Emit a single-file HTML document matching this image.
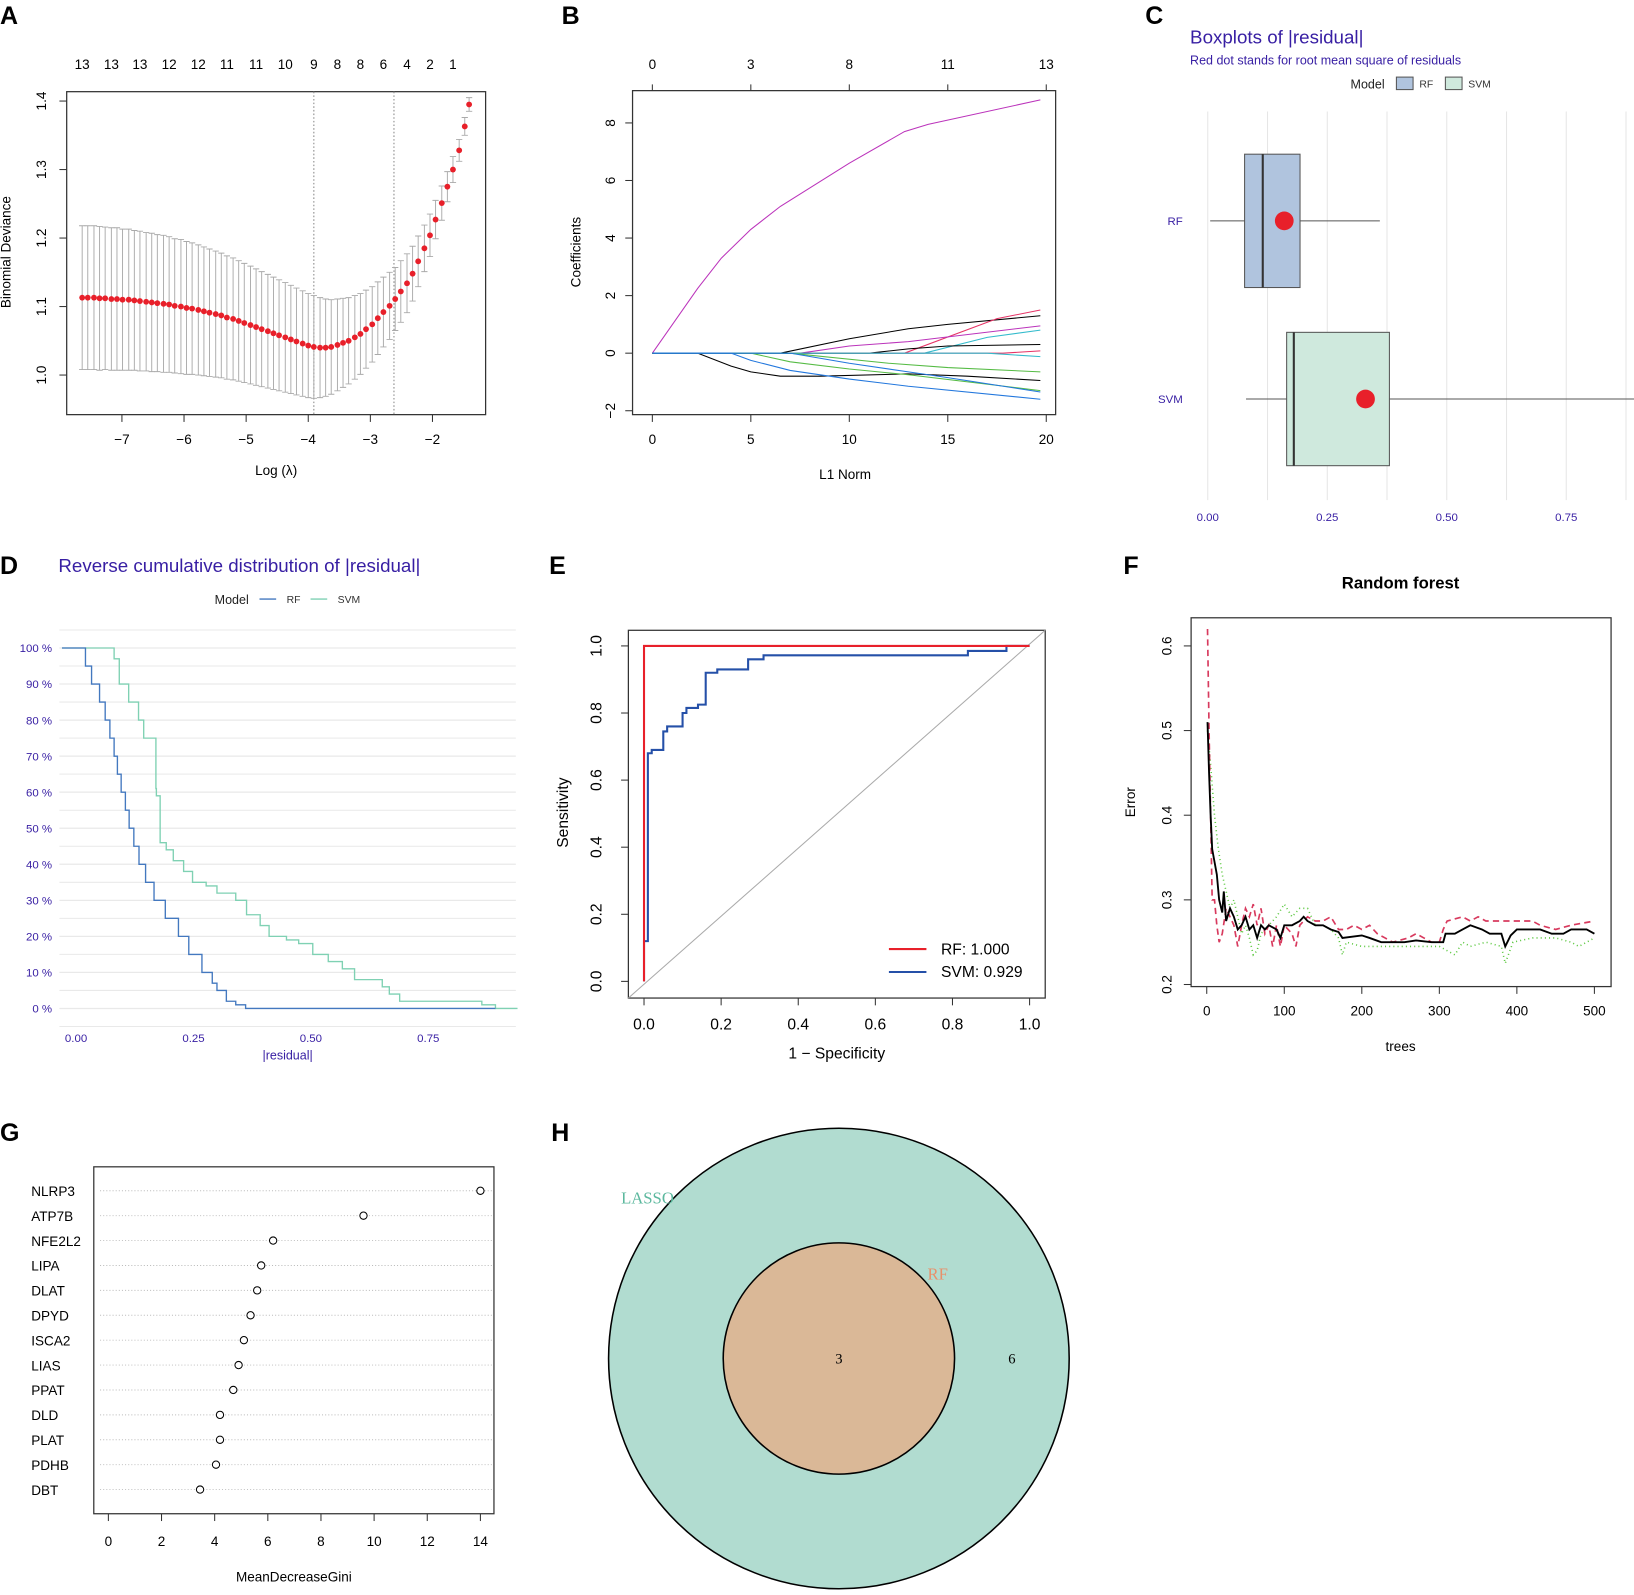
<!DOCTYPE html>
<html><head><meta charset="utf-8">
<style>
html,body{margin:0;padding:0;background:#fff;}
svg{display:block;font-family:"Liberation Sans",Arial,sans-serif;}
</style></head>
<body>
<svg id="fig" width="1634" height="1595" viewBox="0 0 1568 1531" preserveAspectRatio="none" xmlns="http://www.w3.org/2000/svg">
<g font-weight="bold" font-size="24" fill="#000">
<text x="0" y="23">A</text>
<text x="539" y="23">B</text>
<text x="1099" y="23">C</text>
<text x="0" y="551">D</text>
<text x="527" y="551">E</text>
<text x="1078" y="551">F</text>
<text x="0" y="1095">G</text>
<text x="529" y="1095">H</text>
</g>
<g id="pA"></g>
<g id="pB"></g>
<g id="pC"></g>
<g id="pD"></g>
<g id="pE"></g>
<g id="pF"></g>
<g id="pG"></g>
<g id="pH">
  <circle cx="805" cy="1304" r="221" fill="#b1dcd0" stroke="#000" stroke-width="1.5"/>
  <circle cx="805" cy="1304" r="111" fill="#dab897" stroke="#000" stroke-width="1.5"/>
  <text x="596" y="1155" font-family="Liberation Serif,serif" font-size="16" fill="#5cb89e">LASSO</text>
  <text x="890" y="1228" font-family="Liberation Serif,serif" font-size="16" fill="#e8906a">RF</text>
  <text x="805" y="1309" text-anchor="middle" font-family="Liberation Serif,serif" font-size="14">3</text>
  <text x="971" y="1309" text-anchor="middle" font-family="Liberation Serif,serif" font-size="14">6</text>
</g>
</svg>
<script>
// ===== Panel A data =====
const aLogLambda = [-7.64,-7.55,-7.45,-7.36,-7.27,-7.17,-7.08,-6.99,-6.89,-6.80,-6.71,-6.61,-6.52,-6.43,-6.33,-6.24,-6.15,-6.05,-5.96,-5.87,-5.77,-5.68,-5.59,-5.49,-5.40,-5.31,-5.21,-5.12,-5.03,-4.93,-4.84,-4.75,-4.65,-4.56,-4.47,-4.37,-4.28,-4.19,-4.09,-4.00,-3.91,-3.81,-3.72,-3.63,-3.53,-3.44,-3.35,-3.25,-3.16,-3.07,-2.97,-2.88,-2.79,-2.69,-2.60,-2.51,-2.41,-2.32,-2.23,-2.13,-2.04,-1.95,-1.85,-1.76,-1.67,-1.57,-1.48,-1.41];
const aMean = [1.113,1.113,1.113,1.112,1.112,1.111,1.111,1.110,1.110,1.109,1.108,1.107,1.106,1.105,1.104,1.103,1.101,1.100,1.098,1.097,1.095,1.093,1.091,1.089,1.087,1.084,1.082,1.079,1.076,1.073,1.070,1.067,1.064,1.061,1.058,1.055,1.052,1.049,1.046,1.043,1.041,1.040,1.040,1.041,1.044,1.047,1.050,1.055,1.060,1.067,1.074,1.083,1.092,1.101,1.111,1.122,1.134,1.148,1.166,1.185,1.204,1.227,1.251,1.275,1.300,1.328,1.363,1.395];
const aSE = [.105,.105,.105,.105,.104,.104,.104,.103,.103,.102,.102,.101,.101,.100,.100,.099,.098,.098,.097,.096,.095,.094,.093,.092,.091,.090,.089,.088,.087,.086,.085,.084,.083,.082,.081,.080,.079,.078,.077,.076,.075,.073,.071,.069,.067,.065,.063,.061,.059,.057,.055,.053,.051,.049,.046,.045,.043,.040,.037,.034,.031,.028,.025,.022,.019,.016,.013,.010];
const aXTicks = [-7,-6,-5,-4,-3,-2];
const aYTicks = [1.0,1.1,1.2,1.3,1.4];
const aTopPos = [-7.64,-7.17,-6.71,-6.24,-5.77,-5.31,-4.84,-4.37,-3.91,-3.53,-3.16,-2.79,-2.41,-2.04,-1.67];
const aTopLabels = ["13","13","13","12","12","11","11","10","9","8","8","6","4","2","1"];
const aVLines = [-3.91,-2.62];

// ===== Panel B data =====
const bXTicks = [0,5,10,15,20];
const bTopLabels = ["0","3","8","11","13"];
const bYTicks = [-2,0,2,4,6,8];
const bColors = ["#bb33bb","#000","#e63366","#bb33bb","#33bbcc","#000","#e63366","#33bbcc","#55bb44","#000","#55bb44","#2277dd","#2277dd"];
const bPathNorm = [
 [0,2.3,3.5,5,6.5,10,12.8,14,19.7],
 [0,6.5,10,13,15,19.7],
 [0,12.8,17.5,19.7],
 [0,7.5,10,13,19.7],
 [0,13.8,17,19.7],
 [0,11,13,15,19.7],
 [0,17.8,19.7],
 [0,7,17,19.7],
 [0,7,12,15,19.7],
 [0,2.3,4,5,6.5,8.5,13,16,19.7],
 [0,5,7,10,13,19.7],
 [0,7,10,13,15,19.7],
 [0,4,5,7,10,13,19.7]];
const bPathCoef = [
 [0,2.25,3.3,4.3,5.1,6.6,7.7,7.95,8.8],
 [0,0,0.5,0.85,1.0,1.3],
 [0,0,1.2,1.5],
 [0,0,0.25,0.4,0.95],
 [0,0,0.55,0.8],
 [0,0,0.15,0.25,0.3],
 [0,0,0.08],
 [0,0,0,-0.12],
 [0,0,-0.35,-0.5,-0.65],
 [0,0,-0.45,-0.65,-0.8,-0.8,-0.72,-0.8,-0.95],
 [0,0,-0.3,-0.55,-0.75,-1.3],
 [0,0,-0.35,-0.65,-0.85,-1.35],
 [0,0,-0.25,-0.6,-0.9,-1.15,-1.6]];

// ===== Panel C data =====
const cModels = ["RF","SVM"];
const cMin = [0.005,0.08];
const cQ1 = [0.077,0.165];
const cMed = [0.115,0.18];
const cQ3 = [0.193,0.38];
const cMax = [0.36,0.93];
const cRMS = [0.16,0.33];
const cFill = ["#b0c4de","#cfe9dd"];
const cTicks = [0,0.25,0.5,0.75];
const cTickLabels = ["0.00","0.25","0.50","0.75"];

// ===== Panel D data =====
const dRfX = [0.005,0.02,0.033,0.05,0.062,0.072,0.081,0.088,0.096,0.105,0.113,0.123,0.134,0.148,0.166,0.19,0.218,0.24,0.268,0.29,0.30,0.32,0.34,0.361];
const dRfP = [100,95,90,85,80,75,70,65,60,55,50,45,40,35,30,25,20,15,10,7,5,2,1,0];
const dSvmX = [0.081,0.092,0.112,0.133,0.144,0.17,0.171,0.179,0.192,0.207,0.229,0.248,0.277,0.30,0.34,0.363,0.392,0.411,0.448,0.474,0.504,0.537,0.567,0.593,0.652,0.667,0.689,0.864,0.893];
const dSvmP = [97,90,85,80,75,61,59,46,44,41,38,35,34,32,30,26,23,20,19,18,15,13,11,8,6,4,2,1,0];
const dYTicks = [0,10,20,30,40,50,60,70,80,90,100];
const dXTicks = [0,0.25,0.5,0.75];
const dXLabels = ["0.00","0.25","0.50","0.75"];

// ===== Panel E data =====
const eRfFpr = [0,0,0.94,1];
const eRfTpr = [0,1,1,1];
const eSvmFpr = [0,0,0.01,0.01,0.02,0.02,0.05,0.05,0.06,0.06,0.10,0.10,0.11,0.11,0.14,0.14,0.16,0.16,0.19,0.19,0.27,0.27,0.31,0.31,0.84,0.84,0.94,0.94,1];
const eSvmTpr = [0,0.12,0.12,0.68,0.68,0.69,0.69,0.745,0.745,0.76,0.76,0.80,0.80,0.815,0.815,0.825,0.825,0.92,0.92,0.93,0.93,0.96,0.96,0.972,0.972,0.985,0.985,1,1];
const eTicks = [0,0.2,0.4,0.6,0.8,1.0];
const eAUC = ["RF: 1.000","SVM: 0.929"];

// ===== Panel F data =====
const fOobTrees = [1,3,5,7,10,13,16,20,22,25,30,35,40,45,50,55,60,65,70,75,80,90,95,100,110,120,125,130,140,150,160,170,175,200,210,225,240,255,270,290,305,308,320,330,340,355,365,380,385,392,400,430,445,460,470,490,500];
const fOobErr = [0.51,0.45,0.40,0.36,0.345,0.33,0.30,0.285,0.31,0.275,0.29,0.28,0.265,0.27,0.28,0.265,0.27,0.255,0.27,0.265,0.27,0.265,0.255,0.27,0.27,0.275,0.28,0.275,0.27,0.27,0.265,0.262,0.255,0.258,0.255,0.25,0.25,0.25,0.252,0.25,0.25,0.26,0.26,0.265,0.27,0.265,0.26,0.26,0.245,0.258,0.265,0.265,0.26,0.26,0.265,0.265,0.26];
const fRedTrees = [1,3,5,7,10,13,16,20,25,30,35,40,45,50,55,60,65,70,75,80,85,90,95,100,110,115,120,130,140,150,160,170,180,190,200,210,220,230,240,260,270,280,290,300,305,310,330,340,350,360,370,400,420,430,450,470,500];
const fRedErr = [0.62,0.50,0.40,0.30,0.30,0.27,0.25,0.26,0.29,0.28,0.27,0.245,0.27,0.29,0.28,0.295,0.27,0.29,0.26,0.27,0.245,0.27,0.245,0.27,0.26,0.245,0.27,0.28,0.275,0.275,0.28,0.265,0.265,0.27,0.265,0.27,0.26,0.255,0.25,0.255,0.26,0.255,0.25,0.25,0.265,0.275,0.28,0.275,0.28,0.275,0.275,0.275,0.275,0.27,0.265,0.27,0.275];
const fGreenTrees = [1,5,10,15,20,25,30,35,40,45,50,55,60,65,70,80,90,100,110,120,130,140,150,160,170,175,180,200,220,250,280,300,310,320,330,340,360,380,385,395,420,450,470,480,500];
const fGreenErr = [0.50,0.46,0.40,0.36,0.33,0.31,0.29,0.30,0.28,0.26,0.27,0.255,0.235,0.24,0.26,0.27,0.28,0.295,0.28,0.29,0.29,0.27,0.27,0.265,0.255,0.235,0.25,0.245,0.245,0.245,0.245,0.245,0.24,0.235,0.25,0.245,0.25,0.245,0.225,0.25,0.255,0.255,0.25,0.245,0.255];
const fXTicks = [0,100,200,300,400,500];
const fYTicks = [0.2,0.3,0.4,0.5,0.6];

// ===== Panel G data =====
const gGenes = ["NLRP3","ATP7B","NFE2L2","LIPA","DLAT","DPYD","ISCA2","LIAS","PPAT","DLD","PLAT","PDHB","DBT"];
const gGini = [14.0,9.6,6.2,5.75,5.6,5.35,5.1,4.9,4.7,4.2,4.2,4.05,3.45];
const gXTicks = [0,2,4,6,8,10,12,14];

const NS="http://www.w3.org/2000/svg";
function mk(parent,tag,attrs,text){const e=document.createElementNS(NS,tag);for(const k in attrs)e.setAttribute(k,attrs[k]);if(text!==undefined)e.textContent=text;parent.appendChild(e);return e;}
function lin(d0,d1,r0,r1){return v=>r0+(v-d0)*(r1-r0)/(d1-d0);}

// ===== Panel A =====
(function(){
const g=document.getElementById('pA');
const x=lin(-7,-2,117,415), y=lin(1.0,1.4,360,97);
let e=mk(g,'rect',{x:64,y:88,width:402,height:310,fill:'none',stroke:'#333','stroke-width':1.2});

aVLines.forEach(v=>{e=mk(g,'line',{x1:x(v),x2:x(v),y1:88,y2:398,stroke:'#888','stroke-dasharray':'1.5,2','stroke-width':1});
});
aLogLambda.forEach((l,i)=>{const cx=x(l),hi=y(aMean[i]+aSE[i]),lo=y(aMean[i]-aSE[i]);
e=mk(g,'path',{d:`M${cx},${hi}V${lo}M${cx-3},${hi}H${cx+3}M${cx-3},${lo}H${cx+3}`,stroke:'#aaa','stroke-width':0.9,fill:'none'});
});
aLogLambda.forEach((l,i)=>{e=mk(g,'circle',{cx:x(l),cy:y(aMean[i]),r:2.8,fill:'#e8202a'});
});
aXTicks.forEach(t=>{e=mk(g,'line',{x1:x(t),x2:x(t),y1:398,y2:405,stroke:'#333'});
e=mk(g,'text',{x:x(t),y:426,'text-anchor':'middle','font-size':13},'\u2212'+Math.abs(t));});
aYTicks.forEach(t=>{e=mk(g,'line',{x1:57,x2:64,y1:y(t),y2:y(t),stroke:'#333'});
e=mk(g,'text',{x:0,y:0,'text-anchor':'middle','font-size':13,transform:`translate(44,${y(t)}) rotate(-90)`},t.toFixed(1));});
aTopPos.forEach((p,i)=>{e=mk(g,'text',{x:x(p),y:66,'text-anchor':'middle','font-size':13},aTopLabels[i]);});
e=mk(g,'text',{x:265,y:456,'text-anchor':'middle','font-size':13},'Log (\u03bb)');
e=mk(g,'text',{x:0,y:0,'text-anchor':'middle','font-size':13,transform:'translate(10,242) rotate(-90)'},'Binomial Deviance');
})();

// ===== Panel B =====
(function(){
const g=document.getElementById('pB');
const x=lin(0,20,626,1004), y=lin(0,8,339,118);
let e=mk(g,'rect',{x:607,y:87,width:406,height:311,fill:'none',stroke:'#333','stroke-width':1.2});

bPathNorm.forEach((xs,i)=>{const d=xs.map((v,j)=>(j?'L':'M')+x(v)+','+y(bPathCoef[i][j])).join('');
e=mk(g,'path',{d:d,fill:'none',stroke:bColors[i],'stroke-width':1});});
bXTicks.forEach((t,i)=>{e=mk(g,'line',{x1:x(t),x2:x(t),y1:398,y2:405,stroke:'#333'});
e=mk(g,'text',{x:x(t),y:426,'text-anchor':'middle','font-size':13},String(t));
e=mk(g,'line',{x1:x(t),x2:x(t),y1:81,y2:87,stroke:'#333'});
e=mk(g,'text',{x:x(t),y:66,'text-anchor':'middle','font-size':13},bTopLabels[i]);});
bYTicks.forEach(t=>{e=mk(g,'line',{x1:600,x2:607,y1:y(t),y2:y(t),stroke:'#333'});
e=mk(g,'text',{x:0,y:0,'text-anchor':'middle','font-size':13,transform:`translate(590,${y(t)}) rotate(-90)`},t<0?'\u2212'+Math.abs(t):String(t));});
e=mk(g,'text',{x:811,y:460,'text-anchor':'middle','font-size':13},'L1 Norm');
e=mk(g,'text',{x:0,y:0,'text-anchor':'middle','font-size':13,transform:'translate(557,242) rotate(-90)'},'Coefficients');
})();

// ===== Panel C =====
(function(){
const g=document.getElementById('pC');
const x=lin(0,0.75,1159,1503); const rowY=[212,383];
const navy='#371ea3';
let e;
for(let v=0;v<=0.9;v+=0.125){e=mk(g,'line',{x1:x(v),x2:x(v),y1:107,y2:480,stroke:'#e6e6e6','stroke-width':1});}
cModels.forEach((m,i)=>{const cy=rowY[i];
e=mk(g,'line',{x1:x(cMin[i]),x2:x(cMax[i]),y1:cy,y2:cy,stroke:'#555','stroke-width':1});
e=mk(g,'rect',{x:x(cQ1[i]),y:cy-64,width:x(cQ3[i])-x(cQ1[i]),height:128,fill:cFill[i],stroke:'#555','stroke-width':1});
e=mk(g,'line',{x1:x(cMed[i]),x2:x(cMed[i]),y1:cy-64,y2:cy+64,stroke:'#333','stroke-width':2});
e=mk(g,'circle',{cx:x(cRMS[i]),cy:cy,r:9,fill:'#e8202a'});
e=mk(g,'text',{x:1135,y:cy+4,'text-anchor':'end','font-size':11,fill:navy},m);});
cTicks.forEach((t,i)=>{e=mk(g,'text',{x:x(t),y:500,'text-anchor':'middle','font-size':11,fill:navy},cTickLabels[i]);});
e=mk(g,'text',{x:1142,y:42,'font-size':18,fill:navy},'Boxplots of  |residual|');
e=mk(g,'text',{x:1142,y:62,'font-size':12,fill:navy},'Red dot stands for root mean square of residuals');
e=mk(g,'text',{x:1296,y:85,'font-size':12,fill:'#222'},'Model');
[[1340,'RF',cFill[0]],[1387,'SVM',cFill[1]]].forEach(a=>{
e=mk(g,'rect',{x:a[0],y:74,width:16,height:12,fill:a[2],stroke:'#555'});
e=mk(g,'text',{x:a[0]+22,y:84,'font-size':10,fill:'#333'},a[1]);});
})();

// ===== Panel D =====
(function(){
const g=document.getElementById('pD');
const x=lin(0,0.75,73,411), y=lin(0,100,968,622);
const navy='#371ea3';let e;
for(let p=-5;p<=105;p+=5){e=mk(g,'line',{x1:57,x2:495,y1:y(p),y2:y(p),stroke:'#e9e9e9','stroke-width':p%10===0?1.2:1});}
function stepPath(xs,ps,x0,xEnd){let d='M'+x(x0)+','+y(100);let prev=100;xs.forEach((v,i)=>{d+='L'+x(v)+','+y(prev)+'L'+x(v)+','+y(ps[i]);prev=ps[i];});d+='L'+x(xEnd)+','+y(prev);return d;}
e=mk(g,'path',{d:stepPath(dSvmX,dSvmP,-0.03,0.94),fill:'none',stroke:'#7fd1b3','stroke-width':1.3});
e=mk(g,'path',{d:stepPath(dRfX,dRfP,-0.03,0.893),fill:'none',stroke:'#4378bf','stroke-width':1.3});
dYTicks.forEach(t=>{e=mk(g,'text',{x:50,y:y(t)+4,'text-anchor':'end','font-size':11,fill:navy},t+' %');});
dXTicks.forEach((t,i)=>{e=mk(g,'text',{x:x(t),y:1000,'text-anchor':'middle','font-size':11,fill:navy},dXLabels[i]);});
e=mk(g,'text',{x:276,y:1017,'text-anchor':'middle','font-size':12,fill:navy},'|residual|');
e=mk(g,'text',{x:56,y:549,'font-size':18,fill:navy},'Reverse cumulative distribution of  |residual|');
e=mk(g,'text',{x:206,y:580,'font-size':12,fill:'#222'},'Model');
[[249,'RF','#4378bf'],[298,'SVM','#7fd1b3']].forEach(a=>{
e=mk(g,'line',{x1:a[0],x2:a[0]+16,y1:575,y2:575,stroke:a[2],'stroke-width':1.3});
e=mk(g,'text',{x:a[0]+26,y:579,'font-size':10,fill:'#333'},a[1]);});
})();

// ===== Panel E =====
(function(){
const g=document.getElementById('pE');
const x=lin(0,1,618,988), y=lin(0,1,942,620);let e;
e=mk(g,'rect',{x:603,y:605,width:400,height:353,fill:'none',stroke:'#333','stroke-width':1.2});
e=mk(g,'line',{x1:603,y1:958,x2:1003,y2:605,stroke:'#aaa','stroke-width':1});
e=mk(g,'path',{d:eSvmFpr.map((v,i)=>(i?'L':'M')+x(v)+','+y(eSvmTpr[i])).join(''),fill:'none',stroke:'#2550a8','stroke-width':2});
e=mk(g,'path',{d:eRfFpr.map((v,i)=>(i?'L':'M')+x(v)+','+y(eRfTpr[i])).join(''),fill:'none',stroke:'#e8202a','stroke-width':2});
eTicks.forEach(t=>{e=mk(g,'line',{x1:x(t),x2:x(t),y1:958,y2:965,stroke:'#333'});
e=mk(g,'text',{x:x(t),y:988,'text-anchor':'middle','font-size':15},t.toFixed(1));
e=mk(g,'line',{x1:596,x2:603,y1:y(t),y2:y(t),stroke:'#333'});
e=mk(g,'text',{x:0,y:0,'text-anchor':'middle','font-size':15,transform:`translate(577,${y(t)}) rotate(-90)`},t.toFixed(1));});
e=mk(g,'text',{x:803,y:1016,'text-anchor':'middle','font-size':15},'1 \u2212 Specificity');
e=mk(g,'text',{x:0,y:0,'text-anchor':'middle','font-size':15,transform:'translate(545,780) rotate(-90)'},'Sensitivity');
[['#e8202a',911],['#2550a8',933]].forEach((a,i)=>{
e=mk(g,'line',{x1:853,x2:889,y1:a[1],y2:a[1],stroke:a[0],'stroke-width':2});
e=mk(g,'text',{x:903,y:a[1]+5,'font-size':15},eAUC[i]);});
})();

// ===== Panel F =====
(function(){
const g=document.getElementById('pF');
const x=lin(0,500,1158,1530), y=lin(0.2,0.6,945,620);let e;
e=mk(g,'rect',{x:1143,y:593,width:403,height:354,fill:'none',stroke:'#333','stroke-width':1.2});
function poly(ts,vs){return ts.map((t,i)=>(i?'L':'M')+x(t)+','+y(vs[i])).join('');}
e=mk(g,'path',{d:poly(fGreenTrees,fGreenErr),fill:'none',stroke:'#5cc840','stroke-width':1.5,'stroke-dasharray':'1,3'});
e=mk(g,'path',{d:poly(fRedTrees,fRedErr),fill:'none',stroke:'#d83a5e','stroke-width':1.6,'stroke-dasharray':'6,4'});
e=mk(g,'path',{d:poly(fOobTrees,fOobErr),fill:'none',stroke:'#000','stroke-width':1.8});
fXTicks.forEach(t=>{e=mk(g,'line',{x1:x(t),x2:x(t),y1:947,y2:954,stroke:'#333'});
e=mk(g,'text',{x:x(t),y:975,'text-anchor':'middle','font-size':13},String(t));});
fYTicks.forEach(t=>{e=mk(g,'line',{x1:1136,x2:1143,y1:y(t),y2:y(t),stroke:'#333'});
e=mk(g,'text',{x:0,y:0,'text-anchor':'middle','font-size':13,transform:`translate(1124,${y(t)}) rotate(-90)`},t.toFixed(1));});
e=mk(g,'text',{x:1344,y:1009,'text-anchor':'middle','font-size':13},'trees');
e=mk(g,'text',{x:0,y:0,'text-anchor':'middle','font-size':13,transform:'translate(1089,770) rotate(-90)'},'Error');
e=mk(g,'text',{x:1344,y:565,'text-anchor':'middle','font-size':16,'font-weight':'bold'},'Random forest');
})();

// ===== Panel G =====
(function(){
const g=document.getElementById('pG');
const x=lin(0,14,104,461);let e;
e=mk(g,'rect',{x:90,y:1120,width:384,height:333,fill:'none',stroke:'#333','stroke-width':1.2});
gGenes.forEach((n,i)=>{const cy=1143+i*23.9;
e=mk(g,'line',{x1:96,x2:474,y1:cy,y2:cy,stroke:'#bbb','stroke-dasharray':'1,2','stroke-width':0.9});
e=mk(g,'circle',{cx:x(gGini[i]),cy:cy,r:3.5,fill:'#fff',stroke:'#000','stroke-width':1});
e=mk(g,'text',{x:30,y:cy+5,'font-size':13},n);});
gXTicks.forEach(t=>{e=mk(g,'line',{x1:x(t),x2:x(t),y1:1453,y2:1460,stroke:'#333'});
e=mk(g,'text',{x:x(t),y:1484,'text-anchor':'middle','font-size':13},String(t));});
e=mk(g,'text',{x:282,y:1518,'text-anchor':'middle','font-size':13},'MeanDecreaseGini');
})();
</script>
</body></html>
